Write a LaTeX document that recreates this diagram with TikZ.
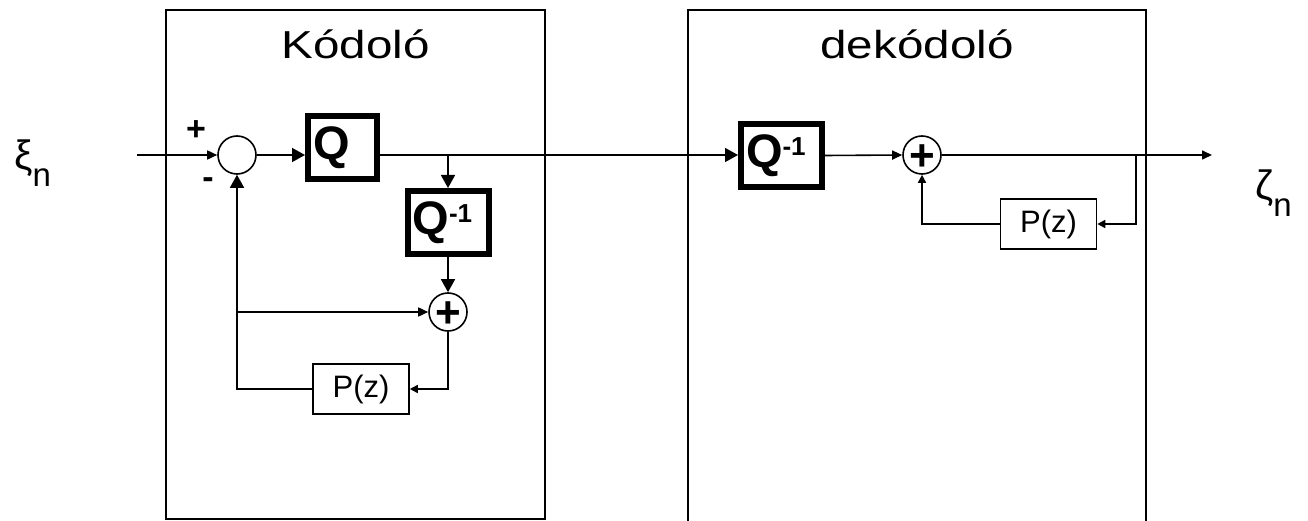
\documentclass[tikz,border=0pt]{standalone}
\usepackage{fontspec}
\setmainfont{Liberation Sans}
\usetikzlibrary{arrows.meta,calc}

% Q with superscript -1
\newcommand\qinvtext{Q\raisebox{12pt}{\fontsize{26}{26}\selectfont -1}}
% plus sign centred on the node centre
\newcommand\sumplus{\makebox[0pt]{\raisebox{-0.353em}[0pt][0pt]{+}}}

\tikzset{
  sig/.style={line width=1.6pt},
  bigtip/.style={-{Triangle[length=13pt,width=14pt]}},
  midtip/.style={-{Triangle[length=10pt,width=9pt]}},
  smalltip/.style={-{Triangle[length=8pt,width=8pt]}},
  qbox/.style={draw, line width=6pt, minimum height=63pt, inner xsep=5pt,
    inner ysep=0pt, align=left, font=\fontsize{47}{47}\selectfont\bfseries},
  pbox/.style={draw, line width=1.6pt, minimum width=96pt, minimum height=50pt,
    inner sep=0pt, font=\fontsize{31}{31}\selectfont},
  sum/.style={draw, circle, line width=1.6pt, minimum size=38pt, inner sep=0pt,
    font=\fontsize{44}{44}\selectfont\bfseries},
  blockframe/.style={draw, line width=2pt, inner sep=0pt},
  blocktitle/.style={font=\fontsize{39}{39}\selectfont, anchor=base, inner sep=0pt},
  sgn/.style={font=\fontsize{34}{34}\selectfont\bfseries, inner sep=0pt},
  sym/.style={anchor=base west, inner sep=0pt, font=\fontsize{41}{41}\selectfont},
}

\begin{document}
\begin{tikzpicture}[x=1pt,y=-1pt]
\useasboundingbox (0,0) rectangle (1308,521);

% encoder and decoder frames
\node[blockframe, minimum width=379pt, minimum height=509pt] (enc) at (355.5,264.5) {};
\draw[line width=2pt] (688,530) -- (688,10) -- (1146,10) -- (1146,530);
\node[blocktitle] (enct) at (355.5,59) {\scalebox{1.22}[1]{Kódoló}};
\node[blocktitle] (dect) at (917,59) {\scalebox{1.22}[1]{dekódoló}};

% input and output symbols
\node[sym] (xi) at (14,170) {ξ\raisebox{-17pt}{\fontsize{33}{33}\selectfont n}};
\node[sym] (zeta) at (1255,200) {ζ\raisebox{-17pt}{\fontsize{33}{33}\selectfont n}};

% encoder blocks
\coordinate (in) at (137,155);
\node[sum] (s1) at (237,155) {};
\node[sgn] (plus) at (196,131) {+};
\node[sgn] (minus) at (208,183) {-};
\node[qbox, text width=59pt] (q) at (342.5,147.5) {Q};
\node[qbox, text width=71pt] (eq) at (448,222.5) {\qinvtext};
\node[sum] (s2) at (448,312) {\sumplus};
\node[pbox] (pe) at (361,389) {P(z)};
\coordinate (b1) at (448,155);
\coordinate (b2) at (237,312);

% decoder blocks
\node[qbox, text width=71pt] (dq) at (781.5,155.5) {\qinvtext};
\node[sum] (s3) at (922,155) {\sumplus};
\node[pbox] (pd) at (1048.5,224) {P(z)};
\coordinate (b3) at (1136,155);
\coordinate (out) at (1212,155);

% encoder connections
\draw[sig,midtip] (in) -- (s1.west);
\draw[sig,bigtip] (s1.east) -- (s1.east -| q.west);
\draw[sig,bigtip] (s1.east -| q.east) -- (s1.east -| dq.west);
\draw[sig,bigtip] (b1) -- (eq.north);
\draw[sig,bigtip] (eq.south) -- (s2.north);
\draw[sig,smalltip] (s2.south) |- (pe.east);
\draw[sig,bigtip] (pe.west) -| (s1.south);
\draw[sig,midtip] (b2) -- (s2.west);

% decoder connections
\draw[sig,midtip] (dq.east) -- (s3.west);
\draw[sig,midtip] (s3.east) -- (out);
\draw[sig,smalltip] (b3) |- (pd.east);
\draw[sig,smalltip] (pd.west) -| (s3.south);
\end{tikzpicture}
\end{document}
